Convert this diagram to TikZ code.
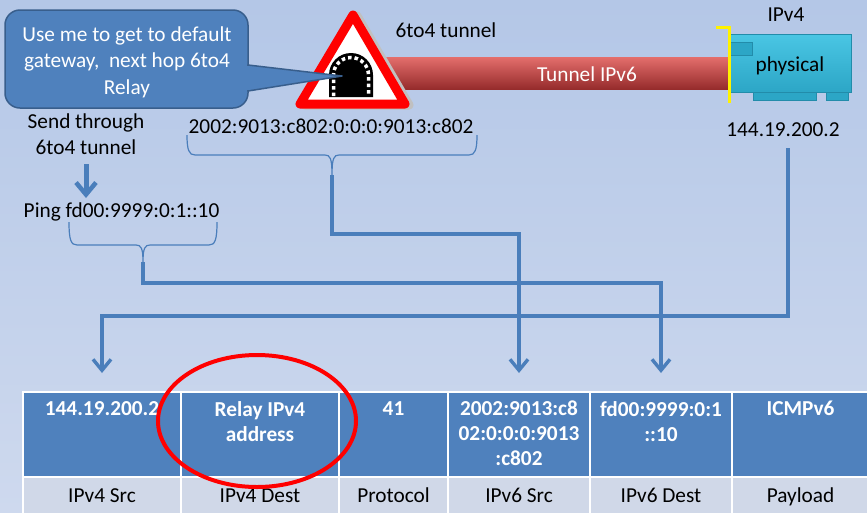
\documentclass[tikz,border=0pt]{standalone}
\usepackage{fontspec}
\setmainfont{Carlito}
\usetikzlibrary{arrows.meta,calc}

\definecolor{bgtop}{RGB}{180,199,231}
\definecolor{bgbot}{RGB}{206,217,238}
\definecolor{officeblue}{RGB}{79,129,189}
\definecolor{calloutedge}{RGB}{56,94,140}
\definecolor{linkblue}{RGB}{74,126,187}
\definecolor{cellgray}{RGB}{208,216,232}
\definecolor{tubetop}{RGB}{228,110,108}
\definecolor{tubemid}{RGB}{200,64,62}
\definecolor{tubebot}{RGB}{150,44,44}
\definecolor{nictop}{RGB}{74,198,228}
\definecolor{nicbot}{RGB}{44,166,198}
\definecolor{nicedge}{RGB}{34,140,170}
\definecolor{signshadow}{RGB}{192,192,192}

\tikzset{
  lab/.style={font=\fontsize{21.3}{26.5}\selectfont, align=center, inner sep=0pt},
  conn/.style={draw=linkblue, line width=3.8pt},
  linkarrow/.style={conn, -{Straight Barb[length=11pt,width=18pt,line width=3.4pt]}},
  sendarrow/.style={draw=linkblue, line width=5pt, -{Straight Barb[length=12pt,width=20pt,line width=4.5pt]}},
  braceline/.style={draw=linkblue, line width=1.2pt},
  headcell/.style={draw=white, line width=2pt, fill=officeblue, minimum height=85pt, anchor=north west, inner sep=0pt},
  namecell/.style={draw=white, line width=2pt, fill=cellgray, minimum height=37pt, anchor=north west, inner sep=0pt},
  headtext/.style={lab, text=white, font=\fontsize{21.3}{25}\selectfont\bfseries, anchor=north},
  nametext/.style={lab, anchor=base},
}

% curly brace opening upwards: left x, right x, top y, bar y, tip y
\newcommand\openbrace[5]{%
  \pgfmathsetmacro\bmid{(#1+#2)/2}%
  \draw[braceline] (#1,#3) .. controls (#1,#4-5) and (#1+2,#4) .. (#1+8,#4)
    -- (\bmid-7,#4) .. controls (\bmid-2,#4) and (\bmid,#4+3) .. (\bmid,#5)
    .. controls (\bmid,#4+3) and (\bmid+2,#4) .. (\bmid+7,#4)
    -- (#2-8,#4) .. controls (#2-2,#4) and (#2,#4-5) .. (#2,#3);}

\begin{document}
\begin{tikzpicture}[x=1pt,y=-1pt]
  \useasboundingbox (0,0) rectangle (867,512);
  \shade[top color=bgtop, bottom color=bgbot] (0,0) rectangle (867,512);

  % IPv6 tunnel tube
  \shade[top color=tubetop, middle color=tubemid, bottom color=tubebot] (385,57) rectangle (731,89);
  \node[lab, anchor=base, text=white] (tubelabel) at (587,81) {Tunnel IPv6};

  % warning sign with tunnel symbol
  \draw[signshadow, fill=signshadow, line width=9pt, line join=round] (357,16) -- (409,105) -- (305,105) -- cycle;
  \draw[red, fill=white, line width=9pt, line join=round] (353,15) -- (405,104) -- (300,104) -- cycle;
  \fill[black] (329,97) -- (329,75) arc[start angle=180,end angle=360,radius=22] -- (373,97) -- cycle;
  \draw[white, line width=3.5pt, dash pattern=on 3.5pt off 3pt] (333.5,96) -- (333.5,75) arc[start angle=180,end angle=360,radius=17.5] -- (368.5,96);
  \node[lab, anchor=base] (tunnelname) at (446,37) {6to4 tunnel};

  % callout
  \draw[fill=officeblue, draw=calloutedge, line width=1.5pt, rounded corners=15pt] (5,10) rectangle (248,108);
  \draw[fill=officeblue, draw=calloutedge, line width=1.5pt, line join=round] (248,65) -- (342,76) -- (248,91) -- cycle;
  \fill[officeblue] (246,66) rectangle (249.5,90);
  \node[lab, text=white, anchor=north] (callouttext) at (127,26.5) {Use me to get to default\\gateway,~ next hop 6to4\\Relay};

  % physical IPv4 interface
  \filldraw[fill=nicbot, draw=nicedge, line width=0.8pt] (753,90) rectangle (816,100);
  \filldraw[fill=nicbot, draw=nicedge, line width=0.8pt] (826,90) rectangle (848,100);
  \node[draw=nicedge, line width=0.8pt, top color=nictop, bottom color=nicbot, minimum width=122pt, minimum height=58pt, inner sep=0pt] (nic) at (790,63) {};
  \filldraw[fill=nicbot, draw=nicedge, line width=0.8pt] (729,42) rectangle (752,55);
  \node[lab, anchor=base] (niclabel) at (790,71) {physical};
  \node[lab, anchor=base] (ipv4) at (786,21) {IPv4};
  \draw[yellow, line width=3pt] (716,27) -- (729,27) -- (729,103);

  % addresses
  \node[lab, anchor=base] (v4addr) at (783,136) {144.19.200.2};
  \node[lab, anchor=base] (v6addr) at (331,133) {2002:9013:c802:0:0:0:9013:c802};
  \node[lab, anchor=north] (send) at (86,113.5) {Send through\\6to4 tunnel};
  \node[lab, anchor=base] (ping) at (121.5,217) {Ping fd00:9999:0:1::10};

  \openbrace{187}{477}{135}{155}{175}
  \openbrace{69}{217}{222}{245}{262}

  % packet header fields
  \foreach \x/\w/\n in {22/158/1,180/158/2,338/109/3,447/142/4,589/142/5,731/137/6}{
    \node[headcell, minimum width=\w pt] (h\n) at (\x,391) {};
    \node[namecell, minimum width=\w pt] (n\n) at (\x,476) {};
  }
  \node[headtext] (f1) at ($(h1.north)+(0,10)$) {144.19.200.2};
  \node[headtext] (f2) at ($(h2.north)+(0,10)$) {Relay IPv4\\address};
  \node[headtext] (f3) at ($(h3.north)+(0,10)$) {41};
  \node[headtext] (f4) at ($(h4.north)+(0,10)$) {2002:9013:c8\\02:0:0:0:9013\\:c802};
  \node[headtext] (f5) at ($(h5.north)+(0,10)$) {fd00:9999:0:1\\::10};
  \node[headtext] (f6) at ($(h6.north)+(0,10)$) {ICMPv6};
  \node[nametext] (g1) at (n1.center |- 0,502) {IPv4 Src};
  \node[nametext] (g2) at (n2.center |- 0,502) {IPv4 Dest};
  \node[nametext] (g3) at (n3.center |- 0,502) {Protocol};
  \node[nametext] (g4) at (n4.center |- 0,502) {IPv6 Src};
  \node[nametext] (g5) at (n5.center |- 0,502) {IPv6 Dest};
  \node[nametext] (g6) at (n6.center |- 0,502) {Payload};

  % connectors from the addresses down to the fields
  \coordinate (tip2002) at (332,175);
  \coordinate (tipping) at (143,262);
  \coordinate (v4drop) at (788,148);
  \coordinate (a1) at ($(h1.north)+(0,-18)$);
  \coordinate (a4) at ($(h4.north)+(0,-18)$);
  \coordinate (a5) at ($(h5.north)+(0,-18)$);
  \draw[linkarrow] (tip2002) -- ++(0,59) -| (a4);
  \draw[linkarrow] (tipping) -- ++(0,21) -| (a5);
  \draw[linkarrow] (v4drop) -- ++(0,168) -| (a1);
  \draw[sendarrow, shorten <=9pt, shorten >=4pt] (send.south) -- (send.south |- ping.north);

  % relay address highlight
  \draw[red, line width=4pt] (257,421) ellipse [x radius=99, y radius=66];
\end{tikzpicture}
\end{document}
